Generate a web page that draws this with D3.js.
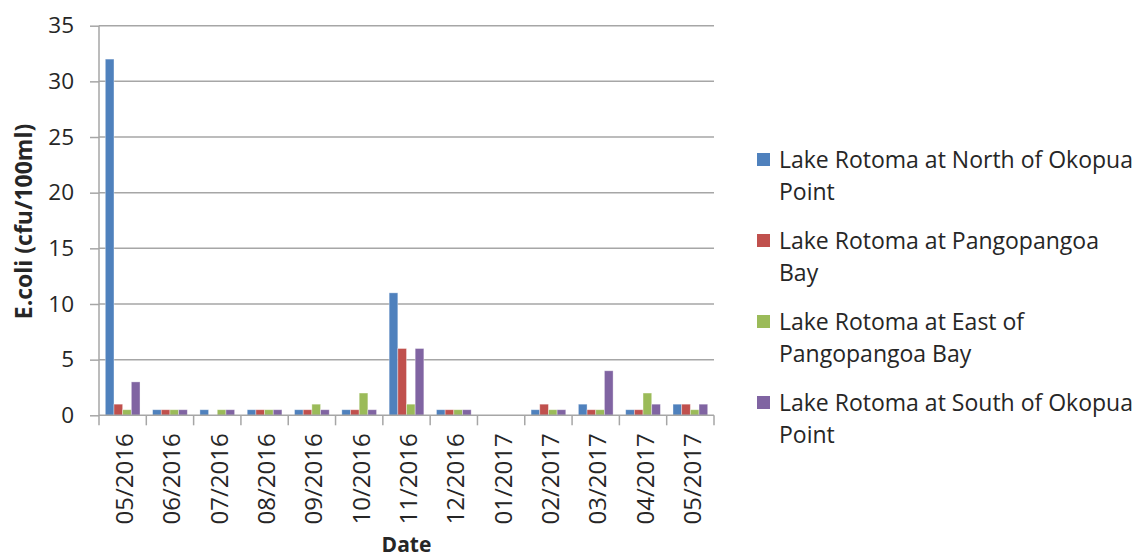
<!DOCTYPE html>
<html>
<head>
<meta charset="utf-8">
<script src="https://cdn.jsdelivr.net/npm/d3@7"></script>
<style>
  html, body { margin: 0; padding: 0; background: #fff; }
  svg { display: block; font-family: "Open Sans", "DejaVu Sans", sans-serif; }
</style>
</head>
<body>
<svg id="chart" width="1137" height="560"></svg>
<script>
// Sampling months
const dates = ["05/2016","06/2016","07/2016","08/2016","09/2016","10/2016","11/2016",
               "12/2016","01/2017","02/2017","03/2017","04/2017","05/2017"];

// E.coli (cfu/100ml) per site; null = no sample taken
const northOkopua     = [32, 0.5, 0.5, 0.5, 0.5, 0.5, 11, 0.5, null, 0.5, 1, 0.5, 1];
const pangopangoaBay  = [1, 0.5, null, 0.5, 0.5, 0.5, 6, 0.5, null, 1, 0.5, 0.5, 1];
const eastPangopangoa = [0.5, 0.5, 0.5, 0.5, 1, 2, 1, 0.5, null, 0.5, 0.5, 2, 0.5];
const southOkopua     = [3, 0.5, 0.5, 0.5, 0.5, 0.5, 6, 0.5, null, 0.5, 4, 1, 1];

const seriesNames = [
  ["Lake Rotoma at North of Okopua", "Point"],
  ["Lake Rotoma at Pangopangoa", "Bay"],
  ["Lake Rotoma at East of", "Pangopangoa Bay"],
  ["Lake Rotoma at South of Okopua", "Point"]
];
const seriesValues = [northOkopua, pangopangoaBay, eastPangopangoa, southOkopua];
const colors = ["#4F81BD", "#C0504D", "#9BBB59", "#8064A2"];
const yTicks = [0, 5, 10, 15, 20, 25, 30, 35];

const svg = d3.select("#chart");
const plot = { left: 99, right: 714, top: 25.7, bottom: 415.3 };
const gridColor = "#a6a6a6";
const textColor = "#262626";

const x = d3.scaleBand().domain(dates).range([plot.left, plot.right]).paddingInner(0).paddingOuter(0);
const y = d3.scaleLinear().domain([0, 35]).range([plot.bottom, plot.top]);
const xs = d3.scaleBand().domain(d3.range(4)).range([6.3, x.bandwidth() - 6.3]);

// Horizontal gridlines
svg.append("g").selectAll("line").data(yTicks.filter(t => t > 0)).join("line")
  .attr("x1", plot.left).attr("x2", plot.right)
  .attr("y1", d => y(d)).attr("y2", d => y(d))
  .attr("stroke", gridColor).attr("stroke-width", 1.5);

// Bars
const groups = svg.append("g").selectAll("g").data(seriesValues).join("g")
  .attr("fill", (d, i) => colors[i]);
groups.each(function(vals, si) {
  d3.select(this).selectAll("rect")
    .data(vals.map((v, di) => ({ v, d: dates[di] })).filter(o => o.v != null))
    .join("rect")
    .attr("x", o => x(o.d) + xs(si))
    .attr("width", xs.bandwidth())
    .attr("y", o => y(o.v))
    .attr("height", o => y(0) - y(o.v))
    .attr("stroke", "rgba(255,255,255,0.45)")
    .attr("stroke-width", 0.8);
});

// Y axis
const yAxis = d3.axisLeft(y).tickValues(yTicks).tickSize(9).tickPadding(16);
const gy = svg.append("g").attr("transform", `translate(${plot.left},0)`).call(yAxis);
gy.select(".domain").attr("stroke", gridColor).attr("stroke-width", 1.5)
  .attr("d", `M0,${plot.top}V${plot.bottom}`);
gy.selectAll(".tick line").attr("stroke", gridColor).attr("stroke-width", 1.5);
gy.selectAll(".tick text").attr("font-size", 22.5).attr("fill", textColor)
  .attr("font-family", "'Open Sans', sans-serif");

// X axis with tick marks at category boundaries
const gx = svg.append("g").attr("transform", `translate(0,${plot.bottom})`);
gx.append("line").attr("x1", plot.left).attr("x2", plot.right)
  .attr("stroke", gridColor).attr("stroke-width", 1.5);
gx.selectAll("line.tk").data(d3.range(dates.length + 1)).join("line").attr("class", "tk")
  .attr("x1", i => plot.left + i * x.step()).attr("x2", i => plot.left + i * x.step())
  .attr("y1", 0).attr("y2", 10)
  .attr("stroke", gridColor).attr("stroke-width", 1.5);
gx.selectAll("text").data(dates).join("text")
  .attr("transform", d => `translate(${x(d) + x.bandwidth() / 2 + 10.5},18) rotate(-90)`)
  .attr("text-anchor", "end")
  .attr("font-size", 24).attr("fill", textColor)
  .text(d => d);

// Axis titles
svg.append("text")
  .attr("transform", `translate(32,${(plot.top + plot.bottom) / 2 + 1}) rotate(-90)`)
  .attr("text-anchor", "middle").attr("font-weight", "bold").attr("font-size", 23)
  .attr("fill", textColor)
  .text("E.coli (cfu/100ml)");
svg.append("text")
  .attr("x", (plot.left + plot.right) / 2).attr("y", 552)
  .attr("text-anchor", "middle").attr("font-weight", "bold").attr("font-size", 21)
  .attr("fill", textColor)
  .text("Date");

// Legend
const legend = svg.append("g").selectAll("g").data(seriesNames).join("g")
  .attr("transform", (d, i) => `translate(757,${160 + i * 81})`);
legend.append("rect").attr("x", 0).attr("y", -7).attr("width", 13).attr("height", 13)
  .attr("fill", (d, i) => colors[i]);
legend.append("text").attr("font-size", 23).attr("fill", textColor)
  .selectAll("tspan").data(d => d).join("tspan")
  .attr("x", 22).attr("y", (d, i) => 8 + i * 32)
  .text(d => d);
</script>
</body>
</html>
